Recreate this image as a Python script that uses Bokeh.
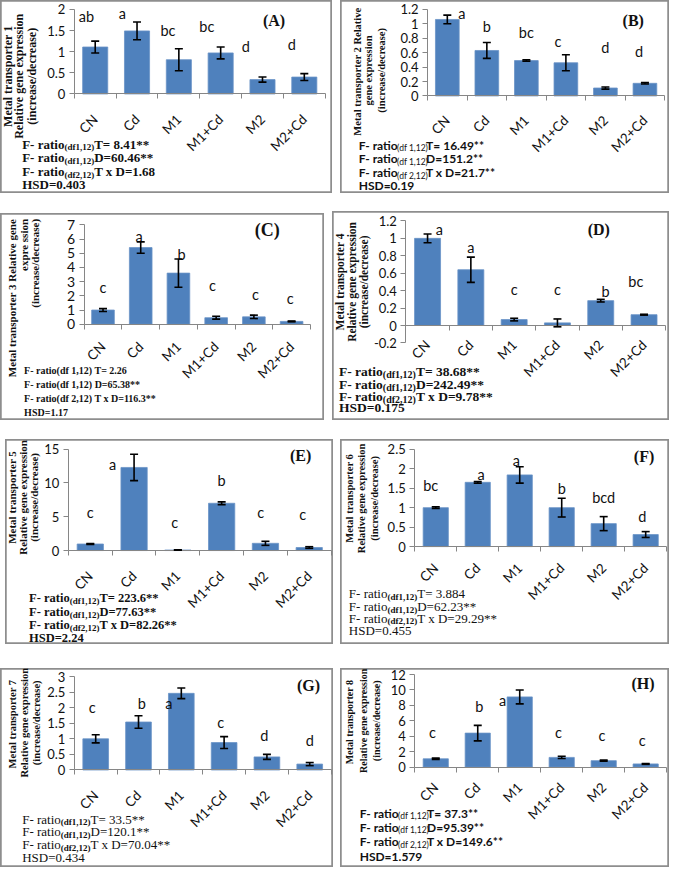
import math
from bokeh.plotting import figure
from bokeh.models import ColumnDataSource, Whisker, TeeHead, Label, FixedTicker, Range1d
from bokeh.layouts import row, column
from bokeh.embed import file_html
from bokeh.resources import INLINE
from bokeh.core.properties import value

# ---------------- data ----------------
treatments = ["CN", "Cd", "M1", "M1+Cd", "M2", "M2+Cd"]

A_mean = [1.11, 1.49, 0.81, 0.97, 0.34, 0.40]
A_err = [0.14, 0.21, 0.26, 0.14, 0.06, 0.08]
A_letters = ["ab", "a", "bc", "bc", "d", "d"]
A_ticks = [0, 0.5, 1, 1.5, 2]
A_title = ["Metal transporter 1", "Relative gene expression", "(increase/decrease)"]
A_stats = [("F- ratio", "(df1,12)", "T= 8.41**"), ("F- ratio", "(df1,12)", " D=60.46**"),
           ("F- ratio", "(df2,12)", "T x D=1.68"), ("HSD=0.403", "", "")]

B_mean = [1.06, 0.63, 0.49, 0.46, 0.11, 0.175]
B_err = [0.06, 0.11, 0.01, 0.11, 0.015, 0.01]
B_letters = ["a", "b", "bc", "c", "d", "d"]
B_ticks = [0, 0.2, 0.4, 0.6, 0.8, 1, 1.2]
B_title = ["Metal transporter 2  Relative", "gene expression", "(increase/decrease)"]
B_stats = [("F- ratio", "(df 1,12)", "T= 16.49**"), ("F- ratio", "(df 1,12)", "  D=151.2**"),
           ("F- ratio", "(df 2,12)", " T x D=21.7**"), ("HSD=0.19", "", "")]

C_mean = [1.0, 5.4, 3.6, 0.46, 0.52, 0.2]
C_err = [0.1, 0.4, 1.0, 0.1, 0.12, 0.03]
C_letters = ["c", "a", "b", "c", "c", "c"]
C_ticks = [0, 1, 2, 3, 4, 5, 6, 7]
C_title = ["Metal transporter 3 Relative gene", "expre ssion", "(increase/decrease)"]
C_stats = [("F- ratio(df 1,12) T= 2.26", "", ""), ("F- ratio(df 1,12)  D=65.38**", "", ""),
           ("F- ratio(df 2,12) T x D=116.3**", "", ""), ("HSD=1.17", "", "")]

D_mean = [1.0, 0.64, 0.068, 0.03, 0.285, 0.124]
D_err = [0.05, 0.145, 0.015, 0.045, 0.015, 0.005]
D_letters = ["a", "a", "c", "c", "b", "bc"]
D_ticks = [-0.2, 0, 0.2, 0.4, 0.6, 0.8, 1, 1.2]
D_title = ["Metal transporter 4", "Relative gene expression", "(increase/decrease)"]
D_stats = [("F- ratio", "(df1,12)", " T= 38.68**"), ("F- ratio", "(df1,12)", "  D=242.49**"),
           ("F- ratio", "(df2,12)", " T x D=9.78**"), ("HSD=0.175", "", "")]

E_mean = [0.97, 12.3, 0.08, 7.0, 1.07, 0.45]
E_err = [0.05, 1.95, 0.02, 0.2, 0.3, 0.12]
E_letters = ["c", "a", "c", "b", "c", "c"]
E_ticks = [0, 5, 10, 15]
E_title = ["Metal transporter 5", "Relative gene expression", "(increase/decrease)"]
E_stats = [("F- ratio", "(df1,12)", " T= 223.6**"), ("F- ratio", "(df1,12)", "  D=77.63**"),
           ("F- ratio", "(df2,12)", " T x D=82.26**"), ("HSD=2.24", "", "")]

F_mean = [1.0, 1.65, 1.84, 1.0, 0.59, 0.31]
F_err = [0.02, 0.02, 0.21, 0.24, 0.18, 0.075]
F_letters = ["bc", "a", "a", "b", "bcd", "d"]
F_ticks = [0, 0.5, 1, 1.5, 2, 2.5]
F_title = ["Metal transporter 6", "Relative gene expression", "(increase/decrease)"]
F_stats = [("F- ratio", "(df1,12)", "T= 3.884"), ("F- ratio", "(df1,12)", " D=62.23**"),
           ("F- ratio", "(df2,12)", "T x D=29.29**"), ("HSD=0.455", "", "")]

G_mean = [1.0, 1.54, 2.46, 0.88, 0.42, 0.19]
G_err = [0.13, 0.2, 0.17, 0.19, 0.08, 0.05]
G_letters = ["c", "b", "a", "c", "d", "d"]
G_ticks = [0, 0.5, 1, 1.5, 2, 2.5, 3]
G_title = ["Metal transporter  7", "Relative gene expression", "(increase/decrease)"]
G_stats = [("F- ratio", "(df1,12)", "T= 33.5**"), ("F- ratio", "(df1,12)", " D=120.1**"),
           ("F- ratio", "(df2,12)", "T x D=70.04**"), ("HSD=0.434", "", "")]

H_mean = [1.07, 4.4, 9.1, 1.25, 0.83, 0.4]
H_err = [0.08, 1.0, 0.9, 0.15, 0.07, 0.05]
H_letters = ["c", "b", "a", "c", "c", "c"]
H_ticks = [0, 2, 4, 6, 8, 10, 12]
H_title = ["Metal transporter  8", "Relative gene expression", "(increase/decrease)"]
H_stats = [("F- ratio", "(df 1,12)", " T= 37.3**"), ("F- ratio", "(df 1,12)", "  D=95.39**"),
           ("F- ratio", "(df 2,12)", " T x D=149.6**"), ("HSD=1.579", "", "")]

# letter label placement (annotation positions)
A_let_dx = [-0.21, -0.35, -0.26, -0.33, -0.40, -0.30]; A_let_y = [1.82, 1.90, 1.51, 1.59, 1.12, 1.16]
B_let_dx = [0.37, 0.0, 0.0, -0.2, 0.0, -0.15];          B_let_y = [1.146, 0.965, 0.874, 0.75, 0.67, 0.61]
C_let_dx = [0.0, -0.04, 0.08, -0.1, 0.04, -0.04];       C_let_y = [2.6, 6.15, 4.9, 2.7, 2.1, 1.8]
D_let_dx = [0.27, 0.0, 0.0, 0.0, 0.11, -0.19];           D_let_y = [1.096, 0.89, 0.41, 0.41, 0.394, 0.507]
E_let_dx = [0.0, -0.49, -0.07, 0.0, -0.11, -0.15];       E_let_y = [5.7, 12.7, 4.2, 10.3, 5.7, 5.4]
F_let_dx = [-0.12, 0.08, -0.08, 0.0, 0.0, -0.08];        F_let_y = [1.56, 1.86, 2.22, 1.48, 1.25, 0.77]
G_let_dx = [-0.08, 0.08, -0.29, -0.08, -0.06, 0.0];      G_let_y = [2.0, 2.13, 2.13, 1.52, 1.1, 0.94]
H_let_dx = [-0.08, 0.04, -0.41, -0.08, -0.04, -0.08];    H_let_y = [4.5, 7.85, 8.6, 4.5, 4.1, 3.5]

# ---------------- geometry helpers ----------------
S = 0.984
OX, OY = 3, 2


def X(x):
    return (x - OX) * S


def Y(y):
    return (y - OY) * S


TR = {' ': .25, '(': .333, ')': .333, '*': .5, ',': .25, '-': .333, '.': .25, '=': .564, 'D': .722,
      'F': .556, 'H': .722, 'S': .556, 'T': .611, 'a': .444, 'd': .5, 'f': .333, 'i': .278, 'o': .5,
      'r': .333, 't': .278, 'x': .5}
TB = {' ': .25, '(': .333, ')': .333, '*': .5, ',': .25, '-': .333, '.': .25, '=': .57, 'D': .722,
      'F': .611, 'H': .778, 'S': .556, 'T': .667, 'a': .5, 'd': .556, 'f': .333, 'i': .278, 'o': .5,
      'r': .444, 't': .333, 'x': .5}
LT = {' ': .2, '(': .31, ')': .31, '*': .42, ',': .2, '-': .34, '.': .2, '=': .58, 'D': .72,
      'F': .54, 'H': .75, 'S': .52, 'T': .57, 'a': .5, 'd': .56, 'f': .33, 'i': .23, 'o': .55,
      'r': .37, 't': .35, 'x': .5}


def tw(s, size, fam, bold):
    if fam == "Lato":
        tab, k = LT, (1.04 if bold else 1.0)
    else:
        tab, k = (TB if bold else TR), 1.0
    return sum(tab.get(c, 0.5) for c in s) * size * k


SERIF = "Liberation Serif"

panels = {
    "A": dict(mean=A_mean, err=A_err, letters=A_letters, ticks=A_ticks, title=A_title, stats=A_stats,
              let_dx=A_let_dx, let_y=A_let_y, tag="(A)", box=(3, 2, 340, 198), frame=(78, 11, 333, 97),
              ylim=(0, 2), title_x=(11, 22, 35), title_y=79, title_align="center", title_size=12,
              tag_pos=(281, 22), tag_size=16, tick_size=13, xstand=18,
              stat_x=25, stat_y=(148, 162, 176, 189), stat_font=SERIF, stat_bold=True, sub_bold=True,
              stat_size=13, sub_size=9),
    "B": dict(mean=B_mean, err=B_err, letters=B_letters, ticks=B_ticks, title=B_title, stats=B_stats,
              let_dx=B_let_dx, let_y=B_let_y, tag="(B)", box=(349, 2, 683, 198), frame=(437, 11, 678, 99),
              ylim=(0, 1.2), title_x=(366, 377, 390), title_y=73, title_align="center", title_size=10.5,
              tag_pos=(646, 22), tag_size=16, tick_size=13, xstand=17,
              stat_x=367, stat_y=(149, 163, 177, 190), stat_font="Lato", stat_bold=True, sub_bold=False,
              stat_size=12, sub_size=8.5),
    "C": dict(mean=C_mean, err=C_err, letters=C_letters, ticks=C_ticks, title=C_title, stats=C_stats,
              let_dx=C_let_dx, let_y=C_let_y, tag="(C)", box=(3, 218, 332, 429), frame=(88, 230, 318, 331),
              ylim=(0, 7), title_x=(15, 27, 38), title_y=224, title_align="right", title_size=11,
              tag_pos=(274, 235), tag_size=18, tick_size=14, xstand=15,
              stat_x=27, stat_y=(378, 392, 406, 421), stat_font=SERIF, stat_bold=True, sub_bold=True,
              stat_size=10, sub_size=10),
    "D": dict(mean=D_mean, err=D_err, letters=D_letters, ticks=D_ticks, title=D_title, stats=D_stats,
              let_dx=D_let_dx, let_y=D_let_y, tag="(D)", box=(340, 216, 683, 429), frame=(415, 226, 679, 350),
              ylim=(-0.2, 1.2), title_x=(348, 360, 372), title_y=288, title_align="center", title_size=11.5,
              tag_pos=(611, 235), tag_size=16, tick_size=13, xstand=12,
              stat_x=347, stat_y=(379, 392, 404, 416), stat_font=SERIF, stat_bold=True, sub_bold=True,
              stat_size=13.5, sub_size=10),
    "E": dict(mean=E_mean, err=E_err, letters=E_letters, ticks=E_ticks, title=E_title, stats=E_stats,
              let_dx=E_let_dx, let_y=E_let_y, tag="(E)", box=(8, 448, 341, 656), frame=(72, 458, 339, 561),
              ylim=(0, 15), title_x=(15, 26, 37), title_y=507, title_align="center", title_size=11,
              tag_pos=(308, 464), tag_size=16, tick_size=13, xstand=18,
              stat_x=32, stat_y=(609, 623, 637, 650), stat_font=SERIF, stat_bold=True, sub_bold=True,
              stat_size=12.5, sub_size=9),
    "F": dict(mean=F_mean, err=F_err, letters=F_letters, ticks=F_ticks, title=F_title, stats=F_stats,
              let_dx=F_let_dx, let_y=F_let_y, tag="(F)", box=(349, 448, 683, 656), frame=(424, 458, 680, 557),
              ylim=(0, 2.5), title_x=(358, 370, 383), title_y=508, title_align="center", title_size=10.5,
              tag_pos=(657, 465), tag_size=16, tick_size=13, xstand=14,
              stat_x=357, stat_y=(605, 618, 630, 642), stat_font=SERIF, stat_bold=False, sub_bold=True,
              stat_size=13, sub_size=9),
    "G": dict(mean=G_mean, err=G_err, letters=G_letters, ticks=G_ticks, title=G_title, stats=G_stats,
              let_dx=G_let_dx, let_y=G_let_y, tag="(G)", box=(3, 681, 341, 883), frame=(78, 689, 339, 784),
              ylim=(0, 3), title_x=(15, 27, 40), title_y=736, title_align="center", title_size=10.5,
              tag_pos=(316, 698), tag_size=16, tick_size=13, xstand=18,
              stat_x=25, stat_y=(834, 847, 860, 873), stat_font=SERIF, stat_bold=False, sub_bold=True,
              stat_size=13, sub_size=9),
    "H": dict(mean=H_mean, err=H_err, letters=H_letters, ticks=H_ticks, title=H_title, stats=H_stats,
              let_dx=H_let_dx, let_y=H_let_y, tag="(H)", box=(349, 681, 683, 883), frame=(424, 687, 680, 781),
              ylim=(0, 12), title_x=(358, 372, 385), title_y=734, title_align="center", title_size=10,
              tag_pos=(656, 696), tag_size=16, tick_size=13, xstand=13,
              stat_x=368, stat_y=(828, 842, 857, 872), stat_font="Lato", stat_bold=True, sub_bold=False,
              stat_size=12, sub_size=8.5),
}

BAR = "#4F81BD"
AX = "#868686"
xs = list(range(1, len(treatments) + 1))
bounds = [i + 0.5 for i in range(0, len(treatments) + 1)]


def tick_key(t):
    return int(t) if float(t).is_integer() else t


def tick_text(t):
    return str(int(t)) if float(t).is_integer() else ("%g" % t)


def make_panel(name, c):
    bx0, by0, bx1, by1 = c["box"]
    fx0, fy0, fx1, fy1 = c["frame"]
    L, T, R, B = round(X(bx0)), round(Y(by0)), round(X(bx1)), round(Y(by1))
    fl, ft, fr, fb = X(fx0), Y(fy0), X(fx1), Y(fy1)
    ylo, yhi = c["ylim"]
    # the plotting frame covers the whole panel box; the chart area sits inside it
    ppx = (fr - fl) / 6.0
    ppy = (fb - ft) / (yhi - ylo)
    x_range = Range1d(0.5 - (fl - L) / ppx, 6.5 + (R - fr) / ppx)
    y_range = Range1d(ylo - (B - fb) / ppy, yhi + (ft - T) / ppy)
    p = figure(width=R - L, height=B - T, x_range=x_range, y_range=y_range,
               output_backend="svg", toolbar_location=None,
               min_border_left=0, min_border_right=0, min_border_top=0, min_border_bottom=0)
    p.outline_line_color = "#8e8e8e"
    p.outline_line_width = 2.5
    p.background_fill_color = "white"
    p.border_fill_color = "white"
    p.xgrid.grid_line_color = None
    p.ygrid.grid_line_color = None

    # y axis (fixed at the left edge of the chart area)
    ya = p.yaxis[0]
    ya.fixed_location = 0.5
    ya.bounds = (ylo, yhi)
    ya.ticker = FixedTicker(ticks=c["ticks"], minor_ticks=[])
    ya.major_label_overrides = {tick_key(t): tick_text(t) for t in c["ticks"]}
    ya.axis_line_color = AX
    ya.major_tick_line_color = AX
    ya.major_tick_out = 5
    ya.major_tick_in = 0
    ya.minor_tick_line_color = None
    ya.major_label_text_font = "Lato"
    ya.major_label_text_font_size = "%gpx" % c["tick_size"]
    ya.major_label_text_color = "#111111"
    ya.major_label_standoff = 4

    # x axis (fixed at zero)
    xa = p.xaxis[0]
    xa.fixed_location = 0
    xa.bounds = (0.5, 6.5)
    xa.ticker = FixedTicker(ticks=xs, minor_ticks=bounds)
    xa.major_label_overrides = {i: t for i, t in zip(xs, treatments)}
    xa.major_label_orientation = math.pi / 4
    xa.major_tick_out = 0
    xa.major_tick_in = 0
    xa.major_tick_line_color = None
    xa.minor_tick_out = 5
    xa.minor_tick_in = 0
    xa.minor_tick_line_color = AX
    xa.axis_line_color = AX
    xa.major_label_text_font = "Lato"
    xa.major_label_text_font_size = "13.5px"
    xa.major_label_text_color = "#111111"
    xa.major_label_standoff = int(c["xstand"])

    # bars
    p.vbar(x=xs, top=c["mean"], bottom=0, width=0.6, fill_color=BAR, line_color="#6A93C6", line_width=0.8)

    # error bars
    src = ColumnDataSource(dict(x=xs, upper=[m + e for m, e in zip(c["mean"], c["err"])],
                                lower=[m - e for m, e in zip(c["mean"], c["err"])]))
    w = Whisker(source=src, base="x", upper="upper", lower="lower", line_color="black", line_width=1.6,
                upper_head=TeeHead(size=8, line_color="black", line_width=1.6),
                lower_head=TeeHead(size=8, line_color="black", line_width=1.6), level="annotation")
    p.add_layout(w)

    # significance letters
    p.text(x=[x + d for x, d in zip(xs, c["let_dx"])], y=c["let_y"], text=c["letters"],
           text_font=value("Lato"), text_font_size="14.5px", text_align="center",
           text_baseline="middle", text_color="#111111")

    def lab(px, py, text, font, size, bold=False, align="left", baseline="alphabetic", angle=0.0):
        p.add_layout(Label(x=px - L, y=B - py, x_units="screen", y_units="screen", text=text,
                           text_font=font, text_font_size="%gpx" % size,
                           text_font_style="bold" if bold else "normal", text_align=align,
                           text_baseline=baseline, angle=angle, text_color="#111111"))

    # panel tag
    lab(X(c["tag_pos"][0]), Y(c["tag_pos"][1]), c["tag"], SERIF, c["tag_size"], bold=True,
        align="center", baseline="middle")

    # y-axis title lines (rotated)
    for tx, line in zip(c["title_x"], c["title"]):
        lab(X(tx), Y(c["title_y"]), line, SERIF, c["title_size"], bold=True,
            align=c["title_align"], baseline="middle", angle=math.pi / 2)

    # statistics block
    fam = c["stat_font"]
    for (a, sub, b), ry in zip(c["stats"], c["stat_y"]):
        sx = X(c["stat_x"])
        sy = Y(ry)
        lab(sx, sy, a, fam, c["stat_size"], bold=c["stat_bold"])
        sx += tw(a, c["stat_size"], fam, c["stat_bold"])
        if sub:
            lab(sx, sy + 3, sub, fam, c["sub_size"], bold=c["sub_bold"])
            sx += tw(sub, c["sub_size"], fam, c["sub_bold"])
        if b:
            lab(sx, sy, b, fam, c["stat_size"], bold=c["stat_bold"])
    return p, (L, T, R, B)


figs = {k: make_panel(k, v) for k, v in panels.items()}

order = [["A", "B"], ["C", "D"], ["E", "F"], ["G", "H"]]
rows = []
prev_bottom = 0
for grp in order:
    rtop = min(figs[k][1][1] for k in grp)
    cur_x = 0
    kids = []
    for k in grp:
        p, (L, T, R, B) = figs[k]
        p.margin = (T - rtop, 0, 0, L - cur_x)
        cur_x = R
        kids.append(p)
    r = row(*kids)
    r.margin = (rtop - prev_bottom, 0, 0, 0)
    prev_bottom = max(figs[k][1][3] for k in grp)
    rows.append(r)

layout = column(*rows)
open("out.html", "w").write(file_html(layout, INLINE))
